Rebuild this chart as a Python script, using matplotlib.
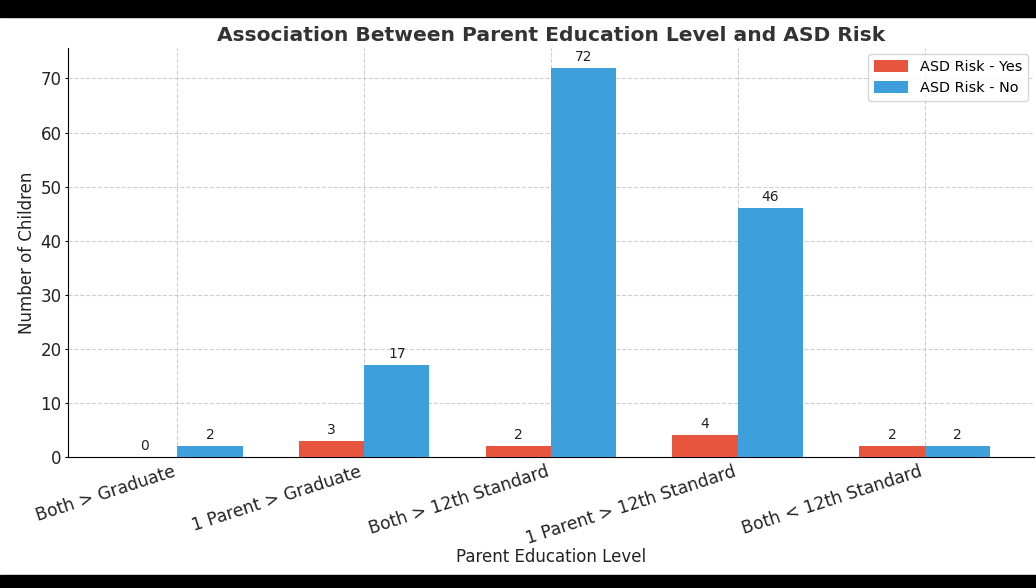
import matplotlib
matplotlib.use("Agg")
import matplotlib.pyplot as plt
import numpy as np
from matplotlib.patches import Rectangle

categories = ["Both > Graduate", "1 Parent > Graduate", "Both > 12th Standard",
              "1 Parent > 12th Standard", "Both < 12th Standard"]
risk_yes = [0, 3, 2, 4, 2]
risk_no = [2, 17, 72, 46, 2]

fig = plt.figure(figsize=(10.36, 5.88), dpi=100)
ax = fig.add_axes([0.0656, 0.2228, 0.9324, 0.6952])

x = np.arange(len(categories))
w = 0.35
b1 = ax.bar(x - w/2, risk_yes, w, color="#E8553F", label="ASD Risk - Yes", zorder=3)
b2 = ax.bar(x + w/2, risk_no, w, color="#3DA0DD", label="ASD Risk - No", zorder=3)

for bars in (b1, b2):
    for r in bars:
        ax.annotate(f"{int(r.get_height())}", (r.get_x() + r.get_width()/2, r.get_height()),
                    xytext=(0, 3), textcoords="offset points", ha="center", va="bottom",
                    fontsize=10, color="#222222")

ax.set_xticks(x)
ax.set_xticklabels(categories, rotation=18, ha="right", fontsize=12.3, color="#222222")
ax.tick_params(axis="x", length=0, pad=4)
ax.tick_params(axis="y", labelsize=12, labelcolor="#222222", length=2.5, pad=2)
ax.set_ylim(0, 75.6)
ax.set_xlabel("Parent Education Level", fontsize=12, labelpad=0, color="#222222")
ax.set_ylabel("Number of Children", fontsize=12, labelpad=3, color="#222222")
ax.set_title("Association Between Parent Education Level and ASD Risk",
             fontsize=14.6, fontweight="bold", color="#333333", pad=5)
ax.grid(True, linestyle="--", alpha=0.6, zorder=0)
ax.spines["top"].set_visible(False)
ax.spines["right"].set_visible(False)
ax.legend(loc="upper right", fontsize=10.4, handlelength=2.4, handleheight=0.9,
          borderaxespad=0.4)

fig.patches.append(Rectangle((0, 1 - 17/588), 1, 17/588, transform=fig.transFigure,
                             color="black", zorder=10))
fig.patches.append(Rectangle((0, 0), 1, 13/588, transform=fig.transFigure,
                             color="black", zorder=10))

fig.savefig("out.png", dpi=100)
